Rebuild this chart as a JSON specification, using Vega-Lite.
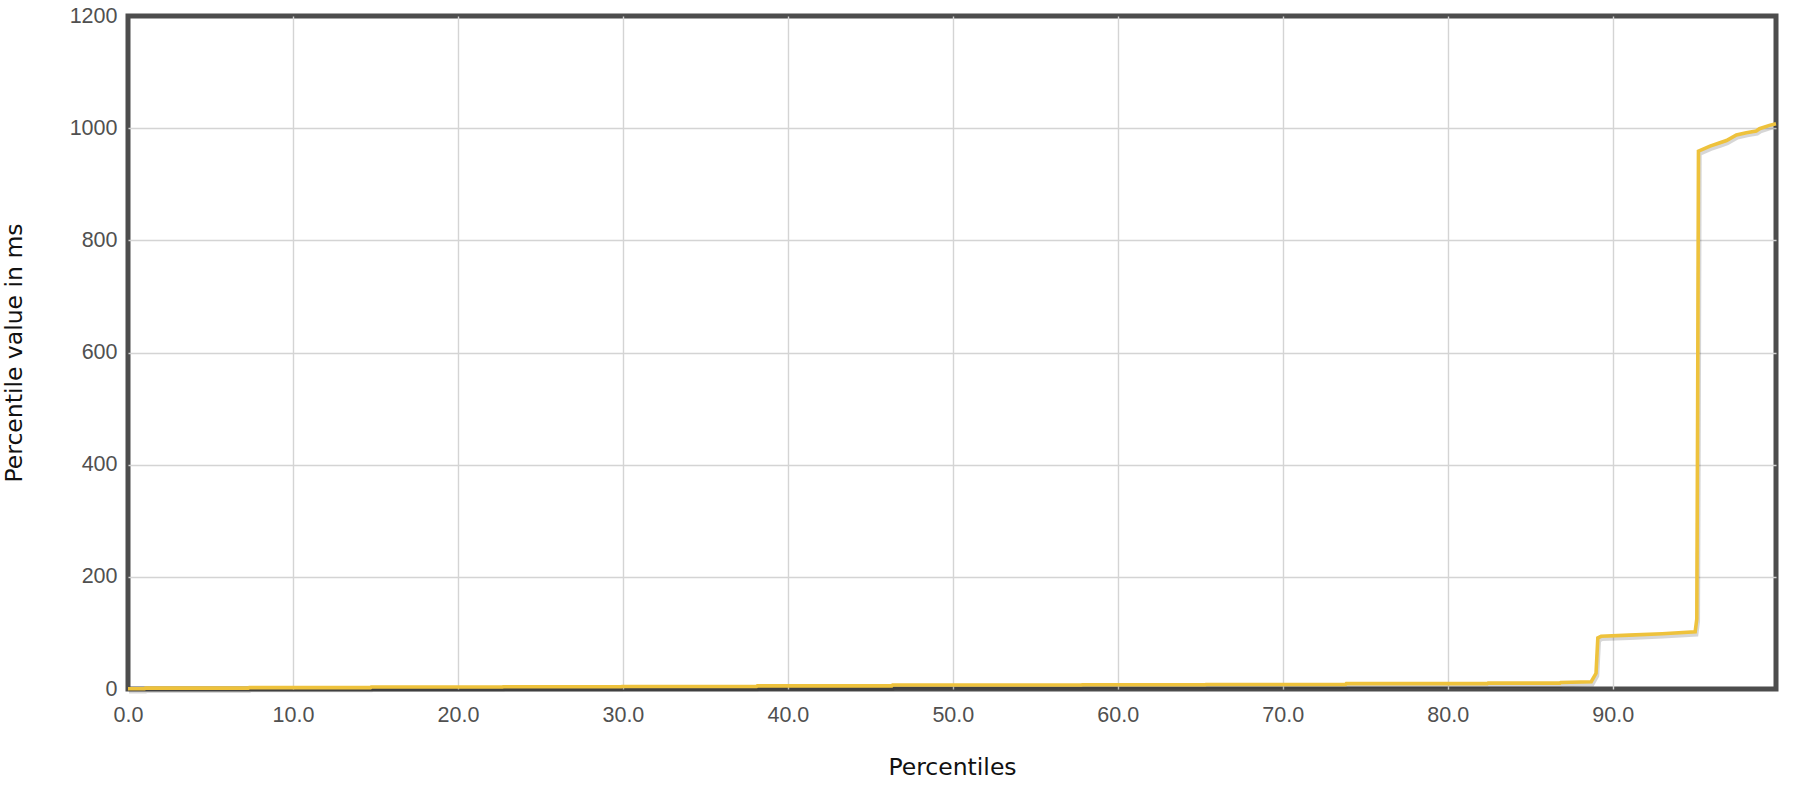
{
  "$schema": "https://vega.github.io/schema/vega-lite/v6.json",
  "autosize": {"type": "none"},
  "padding": {"left": 128, "top": 16, "right": 28, "bottom": 111},
  "width": 1648,
  "height": 673,
  "background": "white",
  "config": {
    "view": {"stroke": "#4d4d4d", "strokeWidth": 5},
    "axis": {
      "labelFont": "Liberation Sans",
      "labelFontSize": 21.5,
      "labelColor": "#505050",
      "titleFont": "DejaVu Sans",
      "titleFontSize": 23.5,
      "titleFontWeight": "normal",
      "titleColor": "#111111",
      "ticks": false,
      "domain": false,
      "gridWidth": 1.4,
      "gridOpacity": 1
    }
  },
  "data": {
    "values": [
      {"p": 0, "v": 0.5}, {"p": 1.0, "v": 0.5}, {"p": 1.05, "v": 1.5}, {"p": 7.3, "v": 1.5},
      {"p": 7.35, "v": 2.5}, {"p": 14.7, "v": 2.5}, {"p": 14.75, "v": 3.5}, {"p": 22.7, "v": 3.5},
      {"p": 22.75, "v": 4}, {"p": 29.9, "v": 4}, {"p": 29.95, "v": 4.5}, {"p": 38.1, "v": 4.5},
      {"p": 38.15, "v": 5.5}, {"p": 46.3, "v": 5.5}, {"p": 46.35, "v": 7}, {"p": 57.8, "v": 7},
      {"p": 57.85, "v": 7.5}, {"p": 65.3, "v": 7.5}, {"p": 65.35, "v": 8}, {"p": 73.8, "v": 8},
      {"p": 73.85, "v": 9.5}, {"p": 82.4, "v": 9.5}, {"p": 82.45, "v": 10.5}, {"p": 86.8, "v": 10.5},
      {"p": 86.85, "v": 11.5}, {"p": 88.7, "v": 13}, {"p": 88.99, "v": 28}, {"p": 89.1, "v": 91},
      {"p": 89.3, "v": 94}, {"p": 91, "v": 96}, {"p": 93, "v": 98.5}, {"p": 95.0, "v": 102},
      {"p": 95.1, "v": 125}, {"p": 95.15, "v": 500}, {"p": 95.2, "v": 959}, {"p": 95.9, "v": 968},
      {"p": 96.5, "v": 974}, {"p": 96.9, "v": 978}, {"p": 97.5, "v": 988}, {"p": 98.1, "v": 992},
      {"p": 98.7, "v": 995}, {"p": 98.9, "v": 999}, {"p": 99.5, "v": 1005}, {"p": 99.9, "v": 1008}
    ]
  },
  "encoding": {
    "x": {
      "field": "p",
      "type": "quantitative",
      "scale": {"domain": [0, 99.9], "nice": false, "zero": false},
      "axis": {
        "title": "Percentiles",
        "values": [0, 10, 20, 30, 40, 50, 60, 70, 80, 90],
        "format": ".1f",
        "labelPadding": 15,
        "titlePadding": 30,
        "labelFlush": false,
        "gridColor": {"condition": {"test": "datum.value == 0", "value": "transparent"}, "value": "#d4d4d4"}
      }
    },
    "y": {
      "field": "v",
      "type": "quantitative",
      "scale": {"domain": [0, 1200], "nice": false},
      "axis": {
        "title": "Percentile value in ms",
        "values": [0, 200, 400, 600, 800, 1000, 1200],
        "format": "d",
        "labelPadding": 11,
        "titlePadding": 43,
        "labelFlush": false,
        "gridColor": {"condition": {"test": "datum.value == 0 || datum.value == 1200", "value": "transparent"}, "value": "#d4d4d4"}
      }
    }
  },
  "layer": [
    {
      "mark": {"type": "line", "color": "#000000", "opacity": 0.16, "strokeWidth": 4.5, "xOffset": 1, "yOffset": 2.5, "clip": false}
    },
    {
      "mark": {"type": "line", "color": "#EEC23C", "strokeWidth": 3.6, "clip": false}
    }
  ]
}
